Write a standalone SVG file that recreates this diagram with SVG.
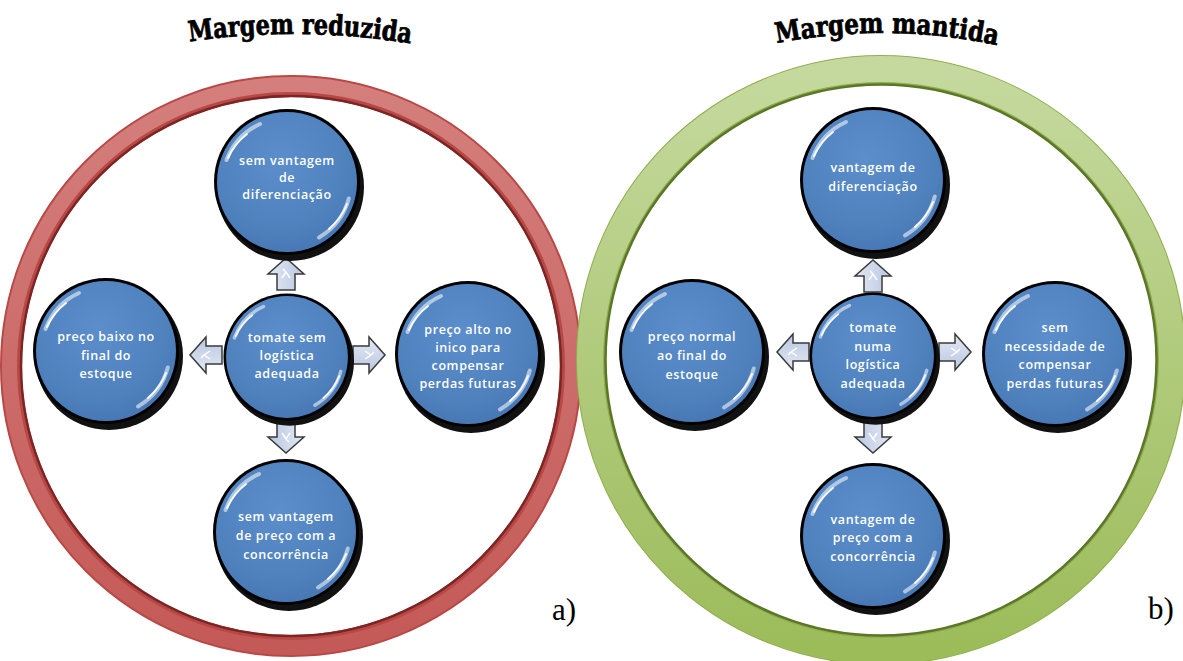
<svg xmlns="http://www.w3.org/2000/svg" xmlns:xlink="http://www.w3.org/1999/xlink" width="1183" height="661" viewBox="0 0 1183 661">
<style>
.t{font-family:"Open Sans","DejaVu Sans",sans-serif;font-size:12.5px;font-weight:600;fill:#ffffff;text-anchor:middle;letter-spacing:0.6px}
.title{font-family:"DejaVu Serif","Liberation Serif",serif;font-weight:bold;font-size:28px;fill:#000;stroke:#000;stroke-width:0.8px}
.lab{font-family:"Liberation Serif","Times New Roman",serif;font-size:31px;fill:#000}
</style>
<defs>
<radialGradient id="blueG" cx="0.45" cy="0.35" r="0.7">
<stop offset="0" stop-color="#5b8ecb"/>
<stop offset="0.7" stop-color="#4f81bd"/>
<stop offset="1" stop-color="#4576b3"/>
</radialGradient>
<linearGradient id="redG" x1="0" y1="0" x2="0" y2="1">
<stop offset="0" stop-color="#d47f7d"/>
<stop offset="1" stop-color="#c45a57"/>
</linearGradient>
<linearGradient id="greenG" x1="0" y1="0" x2="0" y2="1">
<stop offset="0" stop-color="#c5d99e"/>
<stop offset="1" stop-color="#9cbc5a"/>
</linearGradient>
<linearGradient id="arrG" x1="0" y1="0" x2="0" y2="1">
<stop offset="0" stop-color="#e3e9f4"/>
<stop offset="1" stop-color="#b9c7e1"/>
</linearGradient>
<g id="ball">
<circle cx="3" cy="5" r="74" fill="#111"/>
<circle r="73" fill="#000"/>
<circle r="70" fill="url(#blueG)"/>
<path d="M -60.5,-22 A 64 64 0 0 1 -27,-58" fill="none" stroke="#fff" stroke-width="4" stroke-linecap="round" opacity="0.55"/>
<path d="M 61.8,16.5 A 64 64 0 0 1 32,55.4" fill="none" stroke="#fff" stroke-width="4" stroke-linecap="round" opacity="0.55"/>
<path d="M -59,-24 A 63 63 0 0 1 -40,-48" fill="none" stroke="#fff" stroke-width="2" stroke-linecap="round" opacity="0.9"/>
<path d="M 60,22 A 63 63 0 0 1 42,47" fill="none" stroke="#fff" stroke-width="2" stroke-linecap="round" opacity="0.9"/>
</g>
<g id="arr">
<path d="M -16,-9 L 0,-9 L 0,-18 L 16,0 L 0,18 L 0,9 L -16,9 Z" fill="url(#arrG)" stroke="#3a3a3a" stroke-width="1.5" stroke-linejoin="miter"/>
<path d="M -4,-4 L 2,0 L -4,4 M 2,0 L 5,-3" fill="none" stroke="#ffffff" stroke-width="1.5"/>
</g>
<path id="arcA" d="M 180 43 Q 300 24 420 45"/>
<path id="arcB" d="M 768 45 Q 887 20 1006 47"/>
</defs>
<rect width="1183" height="661" fill="#fff"/>

<g id="ring-a">
<circle cx="291" cy="366" r="280" fill="none" stroke="#b84845" stroke-width="22"/>
<circle cx="291" cy="366" r="281.5" fill="none" stroke="url(#redG)" stroke-width="15"/>
<circle cx="291" cy="366" r="270" fill="none" stroke="#7b2624" stroke-width="2.5"/>
</g>
<g id="ring-b">
<circle cx="881" cy="360" r="290" fill="none" stroke="#8fae4e" stroke-width="30"/>
<circle cx="881" cy="360" r="291" fill="none" stroke="url(#greenG)" stroke-width="26"/>
<circle cx="881" cy="360" r="275.5" fill="none" stroke="#5b7628" stroke-width="2.5"/>
</g>

<g id="title-a"><text class="title"><textPath href="#arcA" startOffset="50%" text-anchor="middle" textLength="222" lengthAdjust="spacingAndGlyphs">Margem reduzida</textPath></text></g>
<g id="title-b"><text class="title"><textPath href="#arcB" startOffset="50%" text-anchor="middle" textLength="222" lengthAdjust="spacingAndGlyphs">Margem mantida</textPath></text></g>

<g id="connectors">
<use href="#arr" transform="translate(286,274) rotate(-90)"/>
<use href="#arr" transform="translate(206,355) rotate(180)"/>
<use href="#arr" transform="translate(369,355)"/>
<use href="#arr" transform="translate(286,437) rotate(90)"/>
<use href="#arr" transform="translate(873,276) rotate(-90)"/>
<use href="#arr" transform="translate(793,352) rotate(180)"/>
<use href="#arr" transform="translate(955,352)"/>
<use href="#arr" transform="translate(873,437) rotate(90)"/>
</g>

<g id="a-top"><use href="#ball" transform="translate(287,182)"/>
<text class="t" x="287" y="165">sem vantagem</text><text class="t" x="287" y="182">de</text><text class="t" x="287" y="199">diferenciação</text></g>
<g id="a-center"><use href="#ball" transform="translate(287,357) scale(0.87)"/>
<text class="t" x="287" y="342">tomate sem</text><text class="t" x="287" y="360">logística</text><text class="t" x="287" y="378">adequada</text></g>
<g id="a-left"><use href="#ball" transform="translate(106,351)"/>
<text class="t" x="106" y="341">preço baixo no</text><text class="t" x="106" y="360">final do</text><text class="t" x="106" y="378">estoque</text></g>
<g id="a-right"><use href="#ball" transform="translate(468,354)"/>
<text class="t" x="468" y="334">preço alto no</text><text class="t" x="468" y="352">inico para</text><text class="t" x="468" y="370">compensar</text><text class="t" x="468" y="388">perdas futuras</text></g>
<g id="a-bottom"><use href="#ball" transform="translate(286,532)"/>
<text class="t" x="286" y="521">sem vantagem</text><text class="t" x="286" y="540">de preço com a</text><text class="t" x="286" y="559">concorrência</text></g>

<g id="b-top"><use href="#ball" transform="translate(873,180)"/>
<text class="t" x="873" y="172">vantagem de</text><text class="t" x="873" y="191">diferenciação</text></g>
<g id="b-center"><use href="#ball" transform="translate(873,356) scale(0.87)"/>
<text class="t" x="873" y="332">tomate</text><text class="t" x="873" y="351">numa</text><text class="t" x="873" y="369">logística</text><text class="t" x="873" y="388">adequada</text></g>
<g id="b-left"><use href="#ball" transform="translate(692,352)"/>
<text class="t" x="692" y="341">preço normal</text><text class="t" x="692" y="360">ao final do</text><text class="t" x="692" y="379">estoque</text></g>
<g id="b-right"><use href="#ball" transform="translate(1055,354)"/>
<text class="t" x="1055" y="332">sem</text><text class="t" x="1055" y="351">necessidade de</text><text class="t" x="1055" y="369">compensar</text><text class="t" x="1055" y="388">perdas futuras</text></g>
<g id="b-bottom"><use href="#ball" transform="translate(873,536)"/>
<text class="t" x="873" y="524">vantagem de</text><text class="t" x="873" y="542">preço com a</text><text class="t" x="873" y="561">concorrência</text></g>

<text class="lab" x="552" y="620">a)</text>
<text class="lab" x="1148" y="619">b)</text>
</svg>
